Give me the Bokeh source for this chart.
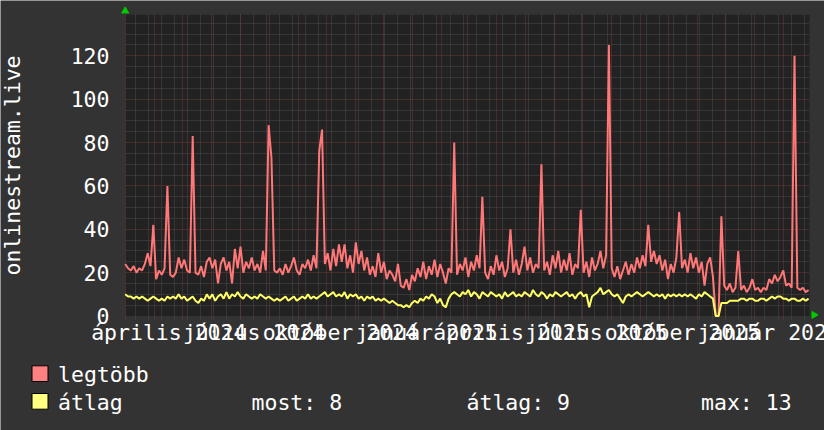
import numpy as np
import pandas as pd
from bokeh.plotting import figure
from bokeh.models import Range1d, FixedTicker, Grid, ColumnDataSource
from bokeh.core.properties import value
from bokeh.embed import file_html
from bokeh.resources import INLINE

# ---------------- data ----------------
start = "2024-02-29 12:00"
step_days = 3
span_days = 730

legtobb = [
    24, 22, 21, 23, 20, 22, 21, 24, 29, 23,
    42, 17, 21, 19, 22, 60, 19, 18, 20, 27,
    22, 26, 21, 20, 83, 20, 19, 23, 18, 25,
    27, 22, 26, 15, 24, 27, 21, 25, 15, 31,
    22, 32, 20, 25, 22, 27, 21, 24, 20, 30,
    21, 88, 73, 21, 20, 22, 19, 24, 20, 23,
    27, 21, 19, 24, 22, 26, 21, 28, 22, 76,
    86, 24, 29, 21, 31, 23, 33, 25, 33, 22,
    28, 20, 34, 24, 30, 21, 27, 19, 23, 18,
    29, 20, 25, 17, 21, 19, 16, 24, 14, 13,
    17, 12, 19, 16, 22, 18, 25, 17, 23, 19,
    26, 18, 24, 20, 15, 22, 20, 80, 19, 24,
    21, 27, 18, 25, 21, 28, 22, 55, 20, 17,
    23, 19, 28, 21, 25, 18, 22, 40, 20, 26,
    19, 24, 32, 21, 27, 20, 24, 22, 70, 21,
    25, 19, 28, 22, 30, 20, 26, 21, 29, 19,
    24, 22, 49, 20, 25, 18, 27, 21, 24, 30,
    22, 28, 125, 22, 18, 23, 17, 21, 25, 19,
    24, 20, 27, 22, 28, 23, 42, 25, 30, 24,
    28, 21, 26, 17, 24, 20, 27, 48, 22, 26,
    20, 29, 22, 27, 20, 25, 14, 24, 27, 18,
    0, 0, 46, 14, 12, 15, 11, 13, 30, 12,
    14, 11, 13, 17, 12, 13, 11, 13, 12, 17,
    15, 19, 16, 18, 21, 14, 15, 13, 120, 13,
    12, 13, 11, 12,
]

atlag = [
    10, 9, 9, 8, 9, 8, 9, 8, 7, 8,
    9, 8, 7, 8, 7, 9, 8, 9, 8, 10,
    8, 9, 7, 8, 9, 7, 6, 8, 7, 10,
    8, 10, 7, 9, 10, 8, 11, 8, 10, 9,
    11, 9, 8, 10, 9, 8, 9, 8, 10, 9,
    8, 9, 8, 7, 8, 7, 8, 9, 7, 8,
    9, 7, 8, 9, 8, 10, 8, 9, 8, 9,
    10, 11, 9, 10, 11, 9, 10, 9, 11, 8,
    10, 9, 10, 8, 9, 7, 9, 8, 9, 7,
    8, 7, 8, 7, 6, 7, 6, 5, 5, 4,
    5, 4, 6, 7, 6, 8, 7, 9, 8, 10,
    9, 6, 8, 5, 4, 8, 10, 11, 10, 9,
    11, 10, 12, 9, 11, 10, 8, 11, 10, 9,
    11, 10, 9, 10, 8, 11, 9, 10, 11, 9,
    10, 9, 11, 10, 9, 12, 10, 9, 11, 10,
    8, 10, 9, 11, 10, 9, 10, 11, 9, 10,
    8, 10, 11, 9, 10, 4, 9, 10, 11, 13,
    10, 11, 12, 10, 9, 10, 8, 6, 9, 10,
    9, 10, 11, 10, 9, 10, 11, 10, 9, 10,
    9, 10, 8, 10, 9, 10, 9, 10, 9, 10,
    9, 10, 9, 8, 10, 9, 11, 10, 9, 8,
    0, 0, 6, 6, 6, 7, 7, 7, 7, 8,
    8, 7, 8, 8, 7, 7, 8, 8, 7, 8,
    9, 8, 9, 9, 8, 8, 7, 8, 8, 7,
    7, 8, 7, 8,
]

x_label_months = ["2024-04-01", "2024-07-01", "2024-10-01", "2025-01-01",
                  "2025-04-01", "2025-07-01", "2025-10-01", "2026-01-01"]
x_label_texts = ["április 2024", "július 2024", "október 2024", "január 2025",
                 "április 2025", "július 2025", "október 2025", "január 2026"]
y_ticks = [0, 20, 40, 60, 80, 100, 120]
y_top = 139.0
y_title = "onlinestream.live"

legend_names = ["legtöbb", "átlag"]
stat_names = ["most", "átlag", "max"]
stat_values = [8, 9, 13]

# ---------------- styles ----------------
FONT = "DejaVu Sans Mono"
FS = "21.5px"
BG = "#333333"
PLOT_BG = "#222222"
RED = "#FF7777"
YEL = "#FFFF66"
MAJOR = "#6E3838"
MINOR = "#4A4A4A"
ARROW = "#00CC00"


def ms(ts):
    return int(pd.Timestamp(ts).value // 10**6)


def days(d):
    return pd.Timedelta(days=d)


t0 = pd.Timestamp(start)
t_end = t0 + days(span_days)
dates = pd.date_range(t0, periods=len(legtobb), freq=f"{step_days}D")
src = ColumnDataSource(dict(x=dates, legtobb=legtobb, atlag=atlag))

# one canvas; the frame covers the whole picture, axes are pinned inside it
p = figure(width=824, height=430, x_axis_type="datetime",
           x_range=Range1d(start=ms(t0 - days(133.03)), end=ms(t0 + days(746.0))),
           y_range=Range1d(-52.81, 145.52),
           output_backend="svg", toolbar_location=None,
           min_border=0, min_border_left=0, min_border_right=0,
           min_border_top=0, min_border_bottom=0,
           background_fill_color=BG, border_fill_color=BG,
           outline_line_color=None)
p.extra_x_ranges = {"px": Range1d(0, 824)}
p.extra_y_ranges = {"px": Range1d(430, 0)}

p.xgrid.visible = False
p.ygrid.visible = False

# plot area background
p.quad(left=[ms(t0)], right=[ms(t_end)], bottom=[0], top=[y_top],
       fill_color=PLOT_BG, line_color=None, level="image")

# grids (limited to the plot area)
minor_v = [ms(t) for t in pd.date_range("2024-03-11", t_end, freq="14D")]
major_v = [ms(t) for t in pd.date_range("2024-03-01", t_end, freq="MS")]
minor_h = [v for v in range(5, int(y_top) + 1, 5) if v % 20 != 0]
major_h = [v for v in range(20, int(y_top) + 1, 20)]
x_span = (ms(t0), ms(t_end))
y_span = (-1.4, y_top)

grid_specs = [(0, minor_v, MINOR, y_span), (1, minor_h, MINOR, x_span),
              (0, major_v, MAJOR, y_span), (1, major_h, MAJOR, x_span)]
try:
    grids = [Grid(dimension=d, ticker=FixedTicker(ticks=t), grid_line_color=c,
                  grid_line_dash="1 1", cross_bounds=cb)
             for d, t, c, cb in grid_specs]
    for g in grids:
        p.add_layout(g)
except AttributeError:
    for d, t, c, cb in grid_specs:
        if d == 0:
            p.segment(x0=t, x1=t, y0=[cb[0]] * len(t), y1=[cb[1]] * len(t),
                      line_color=c, line_dash="1 1", line_width=1)
        else:
            p.segment(x0=[cb[0]] * len(t), x1=[cb[1]] * len(t), y0=t, y1=t,
                      line_color=c, line_dash="1 1", line_width=1)

# series
p.line("x", "legtobb", source=src, line_color=RED, line_width=2)
p.line("x", "atlag", source=src, line_color=YEL, line_width=2)

# axis arrows
p.scatter(x=[ms(t0)], y=[y_top + 1.7], marker="triangle", size=7,
          fill_color=ARROW, line_color=ARROW)
p.scatter(x=[ms(t_end + days(4.8))], y=[0.5], marker="triangle",
          angle=-np.pi / 2, size=7, fill_color=ARROW, line_color=ARROW)

# y axis (pinned to the plot area's left edge)
p.yaxis.ticker = FixedTicker(ticks=y_ticks)
p.yaxis.fixed_location = ms(t0 - days(5.014))
p.yaxis.bounds = (0, y_top)
ya = p.yaxis[0]
ya.axis_line_color = None
ya.major_tick_line_color = None
ya.minor_tick_line_color = None
ya.major_tick_out = 0
ya.major_tick_in = 0
ya.major_label_text_font = FONT
ya.major_label_text_font_size = FS
ya.major_label_text_color = "#FFFFFF"
ya.major_label_standoff = 11
ya.axis_label = y_title
ya.axis_label_text_font = FONT
ya.axis_label_text_font_size = FS
ya.axis_label_text_font_style = "normal"
ya.axis_label_text_color = "#FFFFFF"
ya.axis_label_standoff = 43

# x labels: centred on mid-month of each quarter, free to run past the edge
p.xaxis.visible = False
label_ticks = [ms(pd.Timestamp(m) + days(15)) for m in x_label_months]
p.text(x=label_ticks, y=[-7.38] * len(label_ticks), text=x_label_texts,
       text_font=value(FONT), text_font_size=FS, text_color="#FFFFFF",
       text_align="center", text_baseline="middle")

# ---------------- legend (page-pixel ranges) ----------------
p.quad(left=[31.5, 31.5], right=[47.5, 47.5], top=[365.3, 393.0], bottom=[381.0, 408.7],
       fill_color=["#FF8080", "#FFFF80"], line_color="#000000", line_width=1,
       x_range_name="px", y_range_name="px")
texts = legend_names + [f"{n}: {v}" for n, v in zip(stat_names, stat_values)]
p.text(x=[57.5, 57.5, 251.0, 466.0, 700.5], y=[373.5, 401.5, 401.5, 401.5, 401.5],
       text=texts, text_font=value(FONT), text_font_size=FS, text_color="#FFFFFF",
       text_baseline="middle", text_align="left",
       x_range_name="px", y_range_name="px")

open("out.html", "w").write(file_html(p, INLINE))
